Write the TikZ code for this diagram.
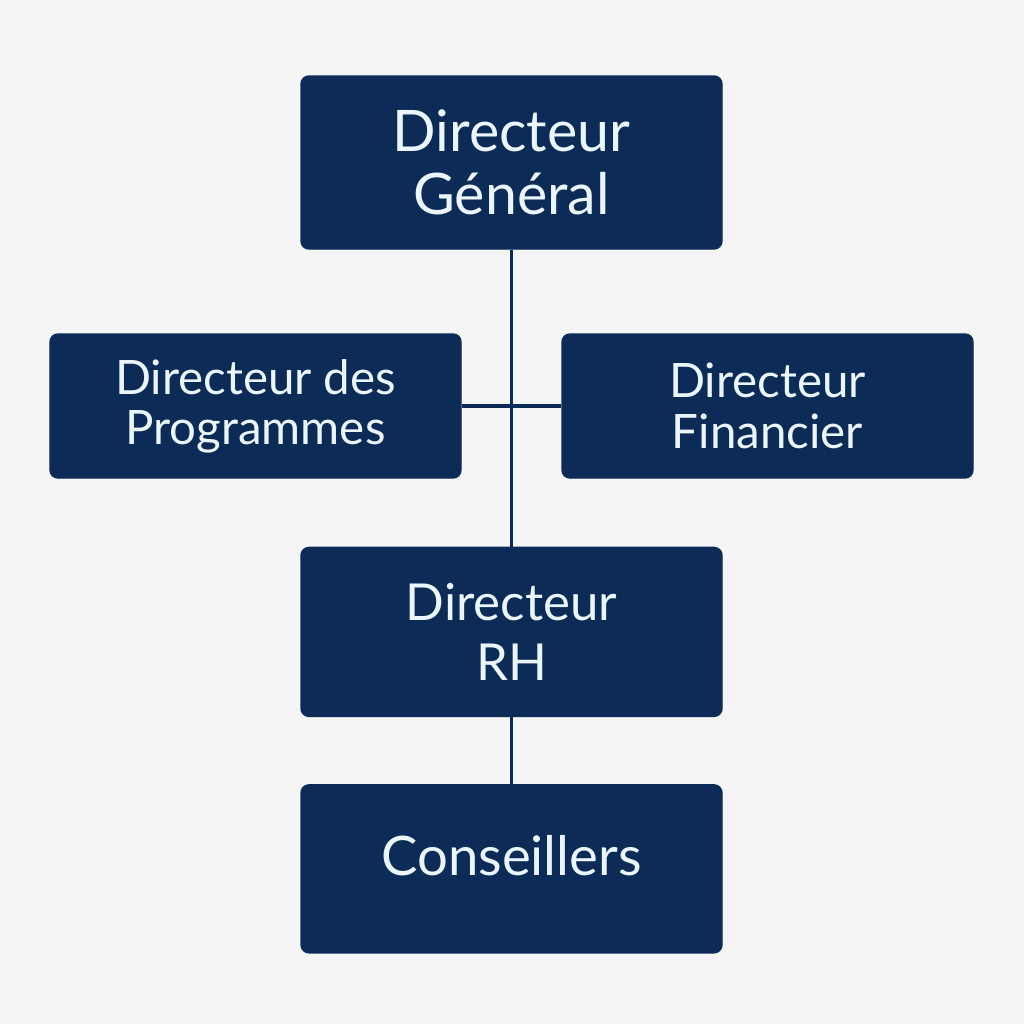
\documentclass[tikz,border=0pt]{standalone}
\usepackage{fontspec}
\setmainfont{Lato}
\usetikzlibrary{positioning}
\definecolor{navy}{HTML}{0D2B57}
\definecolor{paper}{HTML}{F5F5F5}
\definecolor{ink}{HTML}{EAF6FB}

\begin{document}
\begin{tikzpicture} [every node/.style={rectangle,rounded corners=.08cm,fill=navy,draw=navy,text=ink,align=center,inner sep=0}]
\tikzstyle{big}=[minimum width=4.21cm, font=\fontsize{16.3}{18}\selectfont]
\tikzstyle{side}=[minimum width=4.11cm, minimum height=1.44cm, font=\fontsize{13.5}{14.3}\selectfont]
\tikzstyle{link}=[draw=navy, line width=1pt]
\fill [paper] (0,0) rectangle (10.24,-10.24);
\useasboundingbox (0,0) rectangle (10.24,-10.24);

\node [big, minimum height=1.73cm] (dg) at (5.115,-1.625) {Directeur\\Général};
\node [side] (dp) at (2.555,-4.06) {Directeur des\\Programmes};
\node [side] (df) at (7.675,-4.06) {Directeur\\Financier};
\node [big, minimum height=1.69cm, font=\fontsize{14.5}{17}\selectfont, below=2.97cm of dg] (rh) {Directeur\\RH};
\node [big, minimum height=1.68cm, font=\fontsize{15.5}{18}\selectfont, below=.67cm of rh] (cons) {\raisebox{.13cm}[\height][\depth]{Conseillers}};

\draw [link] (dg) -- (rh);
\draw [link] (dp) -- (df);
\draw [link] (rh) -- (cons);
\end{tikzpicture}
\end{document}
